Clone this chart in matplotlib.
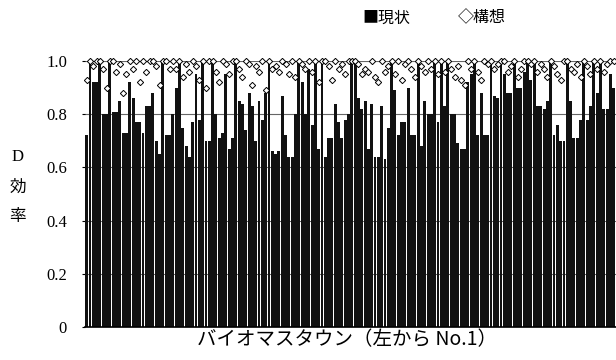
import matplotlib
matplotlib.use("Agg")
import matplotlib.pyplot as plt
import numpy as np

# 現状 (current) D-efficiency, biomass towns from No.1 (left)
current = [
    0.72, 1.0, 0.92, 0.92, 1.0, 0.80, 0.80, 1.0, 0.81, 0.81, 0.85, 0.73, 0.73, 0.92, 0.86, 0.77, 0.77, 0.73, 0.83, 0.83, 0.88, 0.70, 0.65, 1.0, 0.72, 0.72, 0.80,
    0.90, 1.0, 0.75, 0.68, 0.64, 0.77, 0.95, 0.78, 1.0, 0.70, 0.70, 1.0, 0.80, 0.71, 0.73, 0.95, 0.67, 0.71, 1.0, 0.85, 0.84, 0.74, 0.88, 0.83, 0.70, 0.85, 0.78,
    0.88, 1.0, 0.66, 0.65, 0.66, 0.87, 0.72, 0.64, 0.64, 0.80, 1.0, 0.92, 0.80, 0.97, 0.76, 1.0, 0.67, 1.0, 0.64, 0.71, 0.71, 0.84, 0.77, 0.71, 0.78, 0.80, 1.0,
    1.0, 0.86, 0.82, 0.85, 0.67, 0.84, 0.64, 0.64, 0.83, 0.63, 0.75, 1.0, 0.89, 0.72, 0.77, 0.77, 0.90, 0.72, 0.72, 1.0, 0.68, 0.85, 0.80, 0.80, 1.0, 0.77, 1.0,
    0.83, 1.0, 0.80, 0.80, 0.69, 0.67, 0.67, 0.92, 0.95, 1.0, 0.72, 0.88, 0.72, 0.72, 1.0, 0.87, 0.86, 1.0, 0.95, 0.88, 0.88, 1.0, 0.90, 0.90, 0.96, 1.0, 0.93,
    1.0, 0.83, 0.83, 0.82, 0.85, 1.0, 0.72, 0.76, 0.70, 0.70, 1.0, 0.85, 0.71, 0.71, 0.78, 1.0, 0.78, 0.83, 1.0, 0.88, 1.0, 0.82, 0.82, 0.95, 0.90,
]

# 構想 (plan) D-efficiency
plan = [
    0.93, 1.0, 0.98, 1.0, 1.0, 0.97, 0.90, 1.0, 1.0, 0.96, 0.99, 0.88, 0.95, 1.0, 0.97, 1.0, 0.92, 1.0, 0.96, 1.0, 1.0, 0.98, 0.91, 1.0, 1.0, 0.97, 1.0,
    0.97, 1.0, 0.94, 0.99, 0.96, 1.0, 0.98, 0.93, 1.0, 0.90, 1.0, 1.0, 0.96, 0.92, 1.0, 0.99, 0.95, 1.0, 1.0, 0.97, 0.94, 1.0, 0.99, 0.91, 0.98, 0.96, 1.0,
    0.89, 1.0, 0.97, 0.98, 0.96, 1.0, 0.99, 0.95, 1.0, 0.94, 1.0, 0.99, 0.97, 1.0, 0.96, 1.0, 0.92, 1.0, 1.0, 0.98, 0.93, 1.0, 0.97, 0.99, 0.95, 1.0, 1.0,
    1.0, 0.99, 0.95, 0.97, 0.96, 1.0, 0.94, 0.92, 1.0, 0.96, 0.98, 1.0, 0.95, 1.0, 0.93, 0.99, 1.0, 0.97, 0.94, 1.0, 0.98, 0.96, 1.0, 0.97, 1.0, 0.95, 1.0,
    0.96, 1.0, 0.97, 0.94, 0.98, 0.93, 0.91, 1.0, 0.97, 1.0, 0.96, 0.93, 1.0, 0.99, 1.0, 0.97, 0.99, 1.0, 1.0, 0.96, 0.98, 1.0, 0.94, 0.97, 1.0, 1.0, 0.99,
    1.0, 0.96, 0.99, 0.97, 0.94, 1.0, 0.98, 0.95, 0.93, 1.0, 1.0, 0.97, 0.96, 0.99, 0.94, 1.0, 0.98, 0.95, 1.0, 0.97, 1.0, 0.96, 0.99, 1.0, 1.0,
]

yticks = [0, 0.2, 0.4, 0.6, 0.8, 1.0]
ytick_labels = ["0", "0.2", "0.4", "0.6", "0.8", "1.0"]

CJK = ["Noto Sans CJK JP", "DejaVu Sans"]
SERIF = ["Liberation Serif", "DejaVu Serif"]

fig = plt.figure(figsize=(6.16, 3.60), dpi=100)
ax = fig.add_axes([85 / 616, 33 / 360, (616 - 85) / 616, 266 / 360])

x = np.arange(len(current))
for yv in yticks[1:]:
    ax.axhline(yv, color="#666666", lw=0.8, zorder=0)
ax.bar(x, current, width=0.88, color="#111111", zorder=2)
ax.plot(x, plan, linestyle="none", marker="D", markersize=3.2,
        markerfacecolor="white", markeredgecolor="black", markeredgewidth=0.7,
        zorder=3, clip_on=False)

ax.set_xlim(-0.5, len(current) - 0.3)
ax.set_ylim(0, 1.0)
ax.set_yticks(yticks)
ax.set_yticklabels(ytick_labels, fontfamily=SERIF, fontsize=12)
ax.tick_params(axis="y", length=2, pad=11)
ax.set_xticks([])
for s in ["top", "right"]:
    ax.spines[s].set_visible(False)
ax.spines["left"].set_visible(False)
ax.spines["bottom"].set_linewidth(1.2)

fig.text(347 / 616, 1 - 340 / 360, "バイオマスタウン（左から No.1）",
         ha="center", va="center", fontsize=14, family=CJK)

for ch, yy in zip(["D", "効", "率"], [157, 187, 216]):
    fig.text(18 / 616, 1 - yy / 360, ch, ha="center", va="center",
             fontsize=12, family=["Liberation Serif"] if ch == "D" else CJK)

fig.text(386 / 616, 1 - 18 / 360, "■現状", ha="center", va="center",
         fontsize=11.5, family=CJK)
fig.text(482 / 616, 1 - 18 / 360, "◇構想", ha="center", va="center",
         fontsize=11.5, family=CJK)

fig.savefig("out.png", dpi=100)
